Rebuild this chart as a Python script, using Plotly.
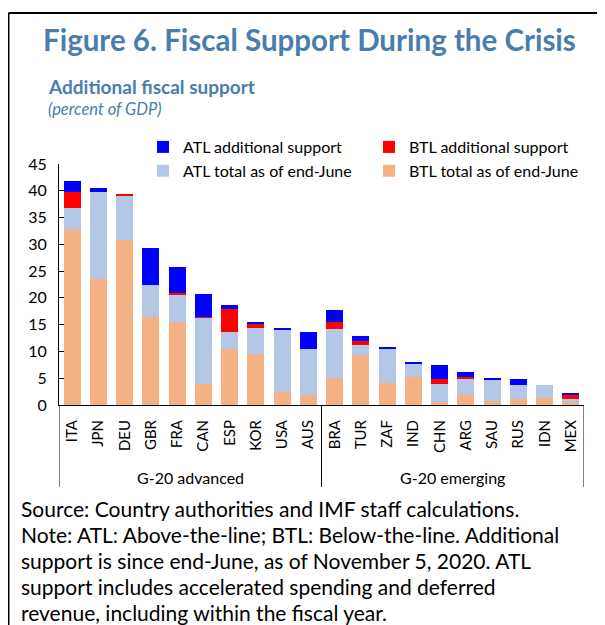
import plotly.graph_objects as go

countries = ["ITA", "JPN", "DEU", "GBR", "FRA", "CAN", "ESP", "KOR", "USA", "AUS",
             "BRA", "TUR", "ZAF", "IND", "CHN", "ARG", "SAU", "RUS", "IDN", "MEX"]
btl_total = [32.8, 23.6, 30.85, 16.5, 15.55, 4.0, 10.45, 9.5, 2.35, 1.85,
             5.1, 9.25, 4.15, 5.15, 0.5, 1.85, 0.75, 1.05, 1.25, 0.5]
atl_total = [3.95, 16.1, 8.2, 5.95, 5.15, 12.3, 3.25, 4.9, 11.75, 8.6,
             9.0, 1.9, 6.35, 2.55, 3.5, 3.05, 4.1, 2.7, 2.5, 0.7]
btl_add = [3.05, 0, 0.3, 0, 0.2, 0.2, 4.15, 0.7, 0, 0,
           1.45, 0.75, 0, 0, 0.9, 0.3, 0, 0, 0, 0.7]
atl_add = [2.1, 0.8, 0, 6.95, 4.8, 4.15, 0.75, 0.45, 0.2, 3.25,
           2.1, 0.9, 0.25, 0.25, 2.5, 0.9, 0.25, 1.15, 0, 0.3]
groups = ["G-20 advanced", "G-20 emerging"]

notes = [
    "Source: Country authorities and IMF staff calculations.",
    "Note: ATL: Above-the-line; BTL: Below-the-line. Additional",
    "support is since end-June, as of November 5, 2020. ATL",
    "support includes accelerated spending and deferred",
    "revenue, including within the fiscal year.",
]

FONT = "Lato"
BLUE_T = "#4A7DAD"

# page shows the figure offset by the 8px body margin;
# helpers take positions as seen on screen
def px_x(p):
    return (p - 59) / 525
def px_y(p):
    return (405 - p) / 241

fig = go.Figure()
fig.add_bar(x=countries, y=btl_total, name="BTL total as of end-June", marker_color="#F4B183")
fig.add_bar(x=countries, y=atl_total, name="ATL total as of end-June", marker_color="#B4C7E7")
fig.add_bar(x=countries, y=btl_add, name="BTL additional support", marker_color="#FF0000")
fig.add_bar(x=countries, y=atl_add, name="ATL additional support", marker_color="#0000FF")
fig.update_traces(marker_line_width=0)

fig.update_layout(
    width=605, height=625,
    margin=dict(l=51, r=29, t=156, b=228),
    barmode="stack", bargap=0.35,
    paper_bgcolor="white", plot_bgcolor="white",
    font=dict(family=FONT, size=14, color="black"),
    showlegend=True,
    legend=dict(
        orientation="h", traceorder="reversed",
        x=px_x(143), xanchor="left", y=px_y(130), yanchor="top",
        entrywidth=181, entrywidthmode="pixels",
        font=dict(size=16), bgcolor="rgba(0,0,0,0)",
    ),
    xaxis=dict(showline=True, linecolor="black", linewidth=1, ticks="",
               tickangle=-90, ticklabelstandoff=8, tickfont=dict(size=15),
               range=[-0.5, 19.5]),
    yaxis=dict(showline=True, linecolor="black", linewidth=1, ticks="inside",
               ticklen=5, tickcolor="black", range=[0, 45], dtick=5,
               showgrid=False, zeroline=False, ticklabelstandoff=8,
               tickfont=dict(size=16)),
)

# outer frame (left + top)
fig.add_shape(type="line", xref="paper", yref="paper", x0=px_x(8.5), x1=px_x(8.5),
              y0=px_y(13), y1=px_y(650), line=dict(color="black", width=2))
fig.add_shape(type="line", xref="paper", yref="paper", x0=px_x(8.5), x1=px_x(640),
              y0=px_y(13), y1=px_y(13), line=dict(color="black", width=2))

# group dividers
for xv in [-0.5, 9.5, 19.5]:
    fig.add_shape(type="line", xref="x", yref="paper", x0=xv, x1=xv,
                  y0=0, y1=px_y(487), line=dict(color="black", width=1))
for i, g in enumerate(groups):
    fig.add_annotation(x=4.5 + 10 * i, xref="x", y=px_y(477), yref="paper",
                       text=g, showarrow=False, font=dict(size=16), yanchor="middle")

fig.add_annotation(x=px_x(309), y=px_y(39), xref="paper", yref="paper",
                   text="<b>Figure 6. Fiscal Support During the Crisis</b>",
                   showarrow=False, xanchor="center", yanchor="middle",
                   font=dict(size=29.5, color=BLUE_T))
fig.add_annotation(x=px_x(46), y=px_y(86), xref="paper", yref="paper",
                   text="<b>Additional fiscal support</b>",
                   showarrow=False, xanchor="left", yanchor="middle",
                   font=dict(size=19, color=BLUE_T))
fig.add_annotation(x=px_x(46), y=px_y(109), xref="paper", yref="paper",
                   text="<i>(percent of GDP)</i>",
                   showarrow=False, xanchor="left", yanchor="middle",
                   font=dict(size=16.5, color=BLUE_T))

for i, line in enumerate(notes):
    fig.add_annotation(x=px_x(19), y=px_y(508 + 26 * i), xref="paper", yref="paper",
                       text=line, showarrow=False, xanchor="left", yanchor="middle",
                       font=dict(size=21, color="black"))

fig.write_html("out.html")
